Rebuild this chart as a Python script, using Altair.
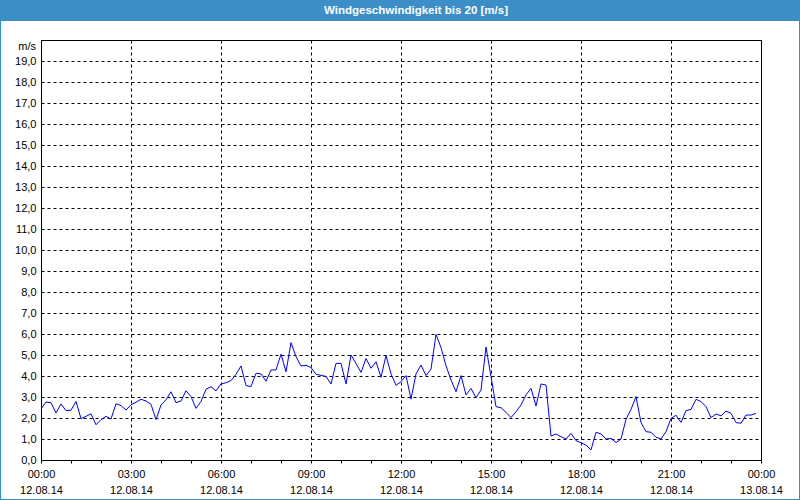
import altair as alt
import pandas as pd

# Wind speed every 10 minutes, 12.08.14 00:00 .. 23:50 (m/s)
speed = [
    2.43, 2.76, 2.73, 2.24, 2.67, 2.35, 2.37, 2.79, 1.97, 2.08,
    2.20, 1.68, 1.92, 2.08, 1.95, 2.68, 2.59, 2.38, 2.63, 2.75,
    2.89, 2.81, 2.65, 1.92, 2.62, 2.87, 3.25, 2.73, 2.81, 3.30,
    3.02, 2.46, 2.79, 3.37, 3.49, 3.29, 3.62, 3.68, 3.78, 4.08,
    4.48, 3.54, 3.50, 4.13, 4.10, 3.75, 4.29, 4.29, 5.04, 4.20,
    5.59, 4.92, 4.48, 4.51, 4.40, 4.08, 4.03, 3.98, 3.62, 4.60,
    4.60, 3.62, 5.00, 4.60, 4.17, 4.83, 4.37, 4.68, 3.94, 4.98,
    4.10, 3.56, 3.73, 4.02, 2.90, 4.10, 4.52, 4.02, 4.33, 5.98,
    5.35, 4.49, 3.81, 3.25, 4.02, 3.10, 3.41, 2.97, 3.33, 5.38,
    3.97, 2.54, 2.49, 2.27, 2.02, 2.30, 2.62, 3.10, 3.41, 2.57,
    3.62, 3.57, 1.14, 1.24, 1.11, 1.00, 1.27, 0.92, 0.82, 0.71,
    0.48, 1.32, 1.24, 1.00, 1.03, 0.83, 1.00, 1.94, 2.41, 3.02,
    1.78, 1.35, 1.32, 1.08, 1.00, 1.35, 1.98, 2.13, 1.79, 2.35,
    2.41, 2.89, 2.78, 2.54, 2.02, 2.19, 2.10, 2.33, 2.22, 1.78,
    1.75, 2.14, 2.14, 2.22,
]
times = pd.date_range("2014-08-12 00:00", periods=len(speed), freq="10min")
time_str = [t.strftime("%Y-%m-%dT%H:%M:%SZ") for t in times]

y_ticks = list(range(0, 20))
x_hours = list(range(0, 25))

title_text = "Windgeschwindigkeit bis 20 [m/s]"
unit_text = "m/s"
frame_blue = "#3c8fc6"
FONT = "Liberation Sans"

df = pd.DataFrame({"time": time_str, "speed": speed})
one = pd.DataFrame({"a": [0]})

x_values = [
    alt.DateTime(year=2014, month=8, date=12 + h // 24, hours=h % 24, utc=True)
    for h in x_hours
]

x_axis = alt.Axis(
    values=x_values,
    title=None,
    labelExpr="utchours(datum.value) % 3 == 0 ? [utcFormat(datum.value, '%H:%M'), utcFormat(datum.value, '%d.%m.%y')] : ''",
    labelOverlap=False,
    labelFlush=False,
    labelPadding=5,
    labelLineHeight=16,
    labelFont=FONT,
    labelFontSize=11,
    labelColor="black",
    tickSize=3,
    tickColor="black",
    domainColor="black",
    grid=True,
    gridColor="black",
    gridDash=[3, 3],
    gridWidth=1,
    gridOpacity={"condition": {"test": "utchours(datum.value) % 3 == 0", "value": 1}, "value": 0},
)

y_axis = alt.Axis(
    values=y_ticks,
    title=None,
    labelExpr="replace(format(datum.value, '.1f'), '.', ',')",
    labelFont=FONT,
    labelFontSize=11,
    labelColor="black",
    labelPadding=5,
    tickSize=0,
    domainColor="black",
    grid=True,
    gridColor="black",
    gridDash=[3, 3],
    gridWidth=1,
)

line = alt.Chart(df).mark_line(color="#0000ff", strokeWidth=1).encode(
    x=alt.X(
        "time:T",
        scale=alt.Scale(
            type="utc",
            domain=[
                alt.DateTime(year=2014, month=8, date=12, utc=True),
                alt.DateTime(year=2014, month=8, date=13, utc=True),
            ],
        ),
        axis=x_axis,
    ),
    y=alt.Y("speed:Q", scale=alt.Scale(domain=[0, 20], nice=False), axis=y_axis),
)

title_bar = alt.Chart(one).mark_rect(color=frame_blue).encode(
    x=alt.value(-41), x2=alt.value(759), y=alt.value(-40), y2=alt.value(-19)
)
border = alt.Chart(one).mark_rect(filled=False, stroke=frame_blue, strokeWidth=2).encode(
    x=alt.value(-41), x2=alt.value(759), y=alt.value(-40), y2=alt.value(460)
)
title = alt.Chart(one).mark_text(
    text=title_text, font=FONT, fontWeight="bold", fontSize=11.5,
    color="white", align="center", baseline="middle",
).encode(x=alt.value(375), y=alt.value(-29.5))
unit = alt.Chart(one).mark_text(
    text=unit_text, font=FONT, fontSize=11, color="black",
    align="right", baseline="middle",
).encode(x=alt.value(-5), y=alt.value(6.5))

chart = (
    alt.layer(line, title_bar, border, title, unit)
    .properties(
        width=720,
        height=420,
        autosize=alt.AutoSizeParams(type="none"),
        padding={"left": 41, "top": 40, "right": 39, "bottom": 40},
        background="white",
    )
    .configure_view(stroke="black", strokeWidth=1)
)

chart.save("out.html", embed_options={"renderer": "svg", "actions": False})
